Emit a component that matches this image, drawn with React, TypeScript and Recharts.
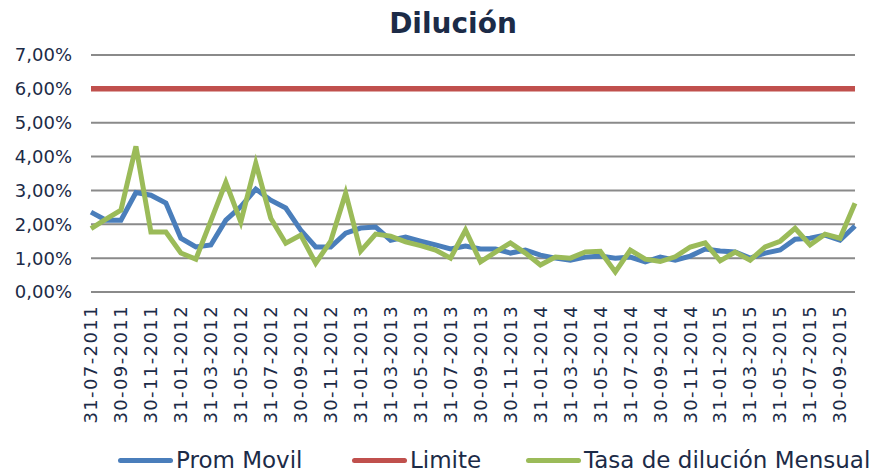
import React from 'react'
import { LineChart, Line, XAxis, YAxis, CartesianGrid, Legend } from 'recharts'

const dates = [
  '31-07-2011', '31-08-2011', '30-09-2011', '31-10-2011', '30-11-2011', '31-12-2011',
  '31-01-2012', '29-02-2012', '31-03-2012', '30-04-2012', '31-05-2012', '30-06-2012',
  '31-07-2012', '31-08-2012', '30-09-2012', '31-10-2012', '30-11-2012', '31-12-2012',
  '31-01-2013', '28-02-2013', '31-03-2013', '30-04-2013', '31-05-2013', '30-06-2013',
  '31-07-2013', '31-08-2013', '30-09-2013', '31-10-2013', '30-11-2013', '31-12-2013',
  '31-01-2014', '28-02-2014', '31-03-2014', '30-04-2014', '31-05-2014', '30-06-2014',
  '31-07-2014', '31-08-2014', '30-09-2014', '31-10-2014', '30-11-2014', '31-12-2014',
  '31-01-2015', '28-02-2015', '31-03-2015', '30-04-2015', '31-05-2015', '30-06-2015',
  '31-07-2015', '31-08-2015', '30-09-2015', '31-10-2015'
]

// values in %
const promMovil = [
  2.36, 2.12, 2.12, 2.94, 2.86, 2.63, 1.59, 1.33, 1.39, 2.12, 2.52, 3.04,
  2.71, 2.48, 1.83, 1.33, 1.33, 1.74, 1.89, 1.92, 1.53, 1.62, 1.5, 1.39,
  1.27, 1.36, 1.27, 1.27, 1.15, 1.24, 1.09, 1.0, 0.94, 1.03, 1.06, 1.0,
  1.03, 0.89, 1.03, 0.94, 1.06, 1.27, 1.21, 1.18, 1.0, 1.15, 1.24, 1.56,
  1.59, 1.68, 1.53, 1.95
]

const tasaMensual = [
  1.87, 2.15, 2.42, 4.3, 1.77, 1.77, 1.15, 0.97, 2.1, 3.24, 2.07, 3.8,
  2.18, 1.44, 1.68, 0.85, 1.5, 2.92, 1.21, 1.71, 1.65, 1.48, 1.37, 1.24,
  1.0, 1.83, 0.89, 1.18, 1.45, 1.15, 0.8, 1.03, 1.0, 1.18, 1.2, 0.59,
  1.24, 0.97, 0.9, 1.04, 1.33, 1.45, 0.92, 1.18, 0.94, 1.33, 1.5, 1.88,
  1.39, 1.71, 1.59, 2.62
]

const limite = 6
const yTicks = [0, 1, 2, 3, 4, 5, 6, 7]
const seriesNames = ['Prom Movil', 'Limite', 'Tasa de dilución Mensual']
const legendLeft = [118, 352, 526]

const data = dates.map((d, i) => ({
  fecha: d,
  prom: promMovil[i],
  limite,
  tasa: tasaMensual[i]
}))

const FONT = '"DejaVu Sans", Verdana, sans-serif'
const TEXT = '#1c2b47'

const XTick = ({ x, y, payload }: any) => (
  <text
    transform={`translate(${x},${y + 5}) rotate(-90)`}
    textAnchor="end"
    dy="0.35em"
    fontSize={18}
    letterSpacing={1.4}
    fontFamily={FONT}
    fill={TEXT}
  >
    {payload.value}
  </text>
)

const LegendContent = ({ payload }: any) => (
  <div style={{ position: 'relative', width: 886, height: 30, fontFamily: FONT, fontSize: 23, color: TEXT }}>
    {(payload || []).map((p: any) => {
      const idx = seriesNames.indexOf(p.value)
      return (
        <div
          key={p.value}
          style={{
            position: 'absolute', left: legendLeft[idx], top: 0, height: 30,
            display: 'flex', alignItems: 'center', whiteSpace: 'nowrap'
          }}
        >
          <div style={{ width: 55, height: 5, borderRadius: 3, background: p.color, flexShrink: 0 }} />
          <span style={{ marginLeft: 3 }}>{p.value}</span>
        </div>
      )
    })}
  </div>
)

export default function App() {
  return (
    <div style={{ position: 'absolute', left: 0, top: 0, width: 886, height: 472, background: '#fff' }}>
      <div
        style={{
          position: 'absolute', left: 0, top: 7, width: 906, textAlign: 'center',
          fontFamily: FONT, fontWeight: 'bold', fontSize: 28, color: TEXT
        }}
      >
        Dilución
      </div>
      <LineChart width={886} height={472} data={data} margin={{ top: 55, right: 31, bottom: 0, left: 0 }}>
        <CartesianGrid vertical={false} stroke="#8a8a8a" strokeWidth={2} />
        <XAxis
          dataKey="fecha"
          interval={1}
          height={180}
          tickLine={false}
          axisLine={{ stroke: '#8a8a8a', strokeWidth: 2 }}
          tick={<XTick />}
        />
        <YAxis
          width={91}
          domain={[0, 7]}
          ticks={yTicks}
          axisLine={false}
          tickLine={false}
          tickMargin={13}
          tickFormatter={(v: number) => v.toFixed(2).replace('.', ',') + '%'}
          tick={{ fontSize: 18, fontFamily: FONT, fill: TEXT }}
        />
        <Legend
          layout="horizontal"
          verticalAlign="middle"
          align="center"
          wrapperStyle={{ top: 445, left: 0, width: 886 }}
          content={<LegendContent />}
        />
        <Line name="Prom Movil" dataKey="prom" stroke="#4a7ebb" strokeWidth={5} dot={false} isAnimationActive={false} />
        <Line name="Limite" dataKey="limite" stroke="#c0504d" strokeWidth={5.5} dot={false} isAnimationActive={false} />
        <Line name="Tasa de dilución Mensual" dataKey="tasa" stroke="#9bbb59" strokeWidth={5} dot={false} isAnimationActive={false} />
      </LineChart>
    </div>
  )
}
